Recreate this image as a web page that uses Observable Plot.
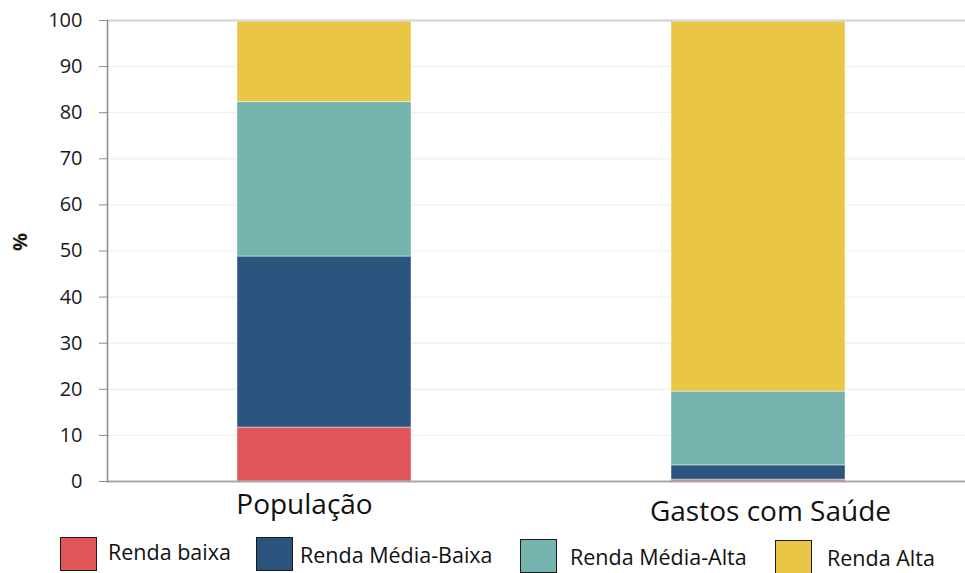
<!DOCTYPE html>
<html>
<head>
<meta charset="utf-8">
<script src="https://cdn.jsdelivr.net/npm/d3@7"></script>
<script src="https://cdn.jsdelivr.net/npm/@observablehq/plot@0.6"></script>
<style>
  html, body { margin: 0; padding: 0; background: #ffffff; }
  body { width: 965px; height: 573px; overflow: hidden; font-family: "Open Sans", sans-serif; }
  #legend { position: relative; width: 965px; height: 43px; }
  .sw { position: absolute; width: 37px; height: 34px; border: 1.5px solid #1a1a1a; box-sizing: border-box; }
  .lt { position: absolute; font-size: 21.5px; color: #111; line-height: 1; white-space: nowrap; transform: translateY(-50%); }
</style>
</head>
<body>
<div id="chart"></div>
<div id="legend"></div>
<script>
const categories = ["População", "Gastos com Saúde"];
const groups = ["Renda baixa", "Renda Média-Baixa", "Renda Média-Alta", "Renda Alta"];
const populacao = [11.7, 37.1, 33.5, 17.7];
const gastos = [0.4, 3.1, 16.0, 80.5];
const colors = ["#e0555a", "#2b557f", "#74b3ae", "#e9c646"];
const yTicks = [0, 10, 20, 30, 40, 50, 60, 70, 80, 90, 100];

const rows = [];
groups.forEach((g, i) => {
  rows.push({cat: categories[0], group: g, value: populacao[i]});
  rows.push({cat: categories[1], group: g, value: gastos[i]});
});

const chart = Plot.plot({
  width: 965,
  height: 530,
  marginTop: 20,
  marginBottom: 49,
  marginLeft: 107,
  marginRight: 0,
  style: {fontFamily: "'Open Sans', sans-serif", background: "#ffffff", overflow: "visible"},
  x: {domain: categories, range: [107, 975], paddingInner: 0.6, paddingOuter: 0.3, axis: null},
  y: {domain: [0, 100], axis: null},
  color: {domain: groups, range: colors},
  marks: [
    Plot.gridY(yTicks, {stroke: "#e6efef", strokeOpacity: 1, strokeWidth: 1}),
    Plot.barY(rows, {x: "cat", y: "value", fill: "group", stroke: "#ffffff", strokeOpacity: 0.45, strokeWidth: 1}),
    Plot.ruleY([100], {stroke: "#d9d9d9", strokeWidth: 2.5}),
    Plot.ruleY([0], {stroke: "#a6a6a6", strokeWidth: 2}),
    Plot.axisY(yTicks, {tickSize: 8, tickPadding: 17, fontSize: 20, stroke: "#8c8c8c", fill: "#1a1a1a", label: null}),
    Plot.frame({anchor: "left", stroke: "#8c8c8c", strokeWidth: 1.5}),
    Plot.text(["%"], {frameAnchor: "left", dx: -87, rotate: -90, text: d => d, fontSize: 20, fontWeight: "bold", fill: "#1a1a1a"}),
    Plot.text([categories[0]], {x: d => d, text: d => d, frameAnchor: "bottom", lineAnchor: "middle", dy: 24, dx: -20, fontSize: 28, fill: "#111"}),
    Plot.text([categories[1]], {x: d => d, text: d => d, frameAnchor: "bottom", lineAnchor: "middle", dy: 31, dx: 12, fontSize: 28, fill: "#111"})
  ]
});
document.getElementById("chart").appendChild(chart);

// HTML legend (layout offsets only; labels and colours from the arrays above)
const legendLayout = [
  {sx: 60, sy: 7, tx: 108, ty: 22},
  {sx: 256, sy: 7, tx: 300, ty: 25},
  {sx: 520, sy: 9, tx: 570, ty: 27},
  {sx: 775, sy: 10, tx: 827, ty: 28}
];
const legend = document.getElementById("legend");
groups.forEach((g, i) => {
  const L = legendLayout[i];
  const sw = document.createElement("div");
  sw.className = "sw";
  sw.style.left = L.sx + "px";
  sw.style.top = L.sy + "px";
  sw.style.background = colors[i];
  legend.appendChild(sw);
  const t = document.createElement("div");
  t.className = "lt";
  t.style.left = L.tx + "px";
  t.style.top = L.ty + "px";
  t.textContent = g;
  legend.appendChild(t);
});
</script>
</body>
</html>
